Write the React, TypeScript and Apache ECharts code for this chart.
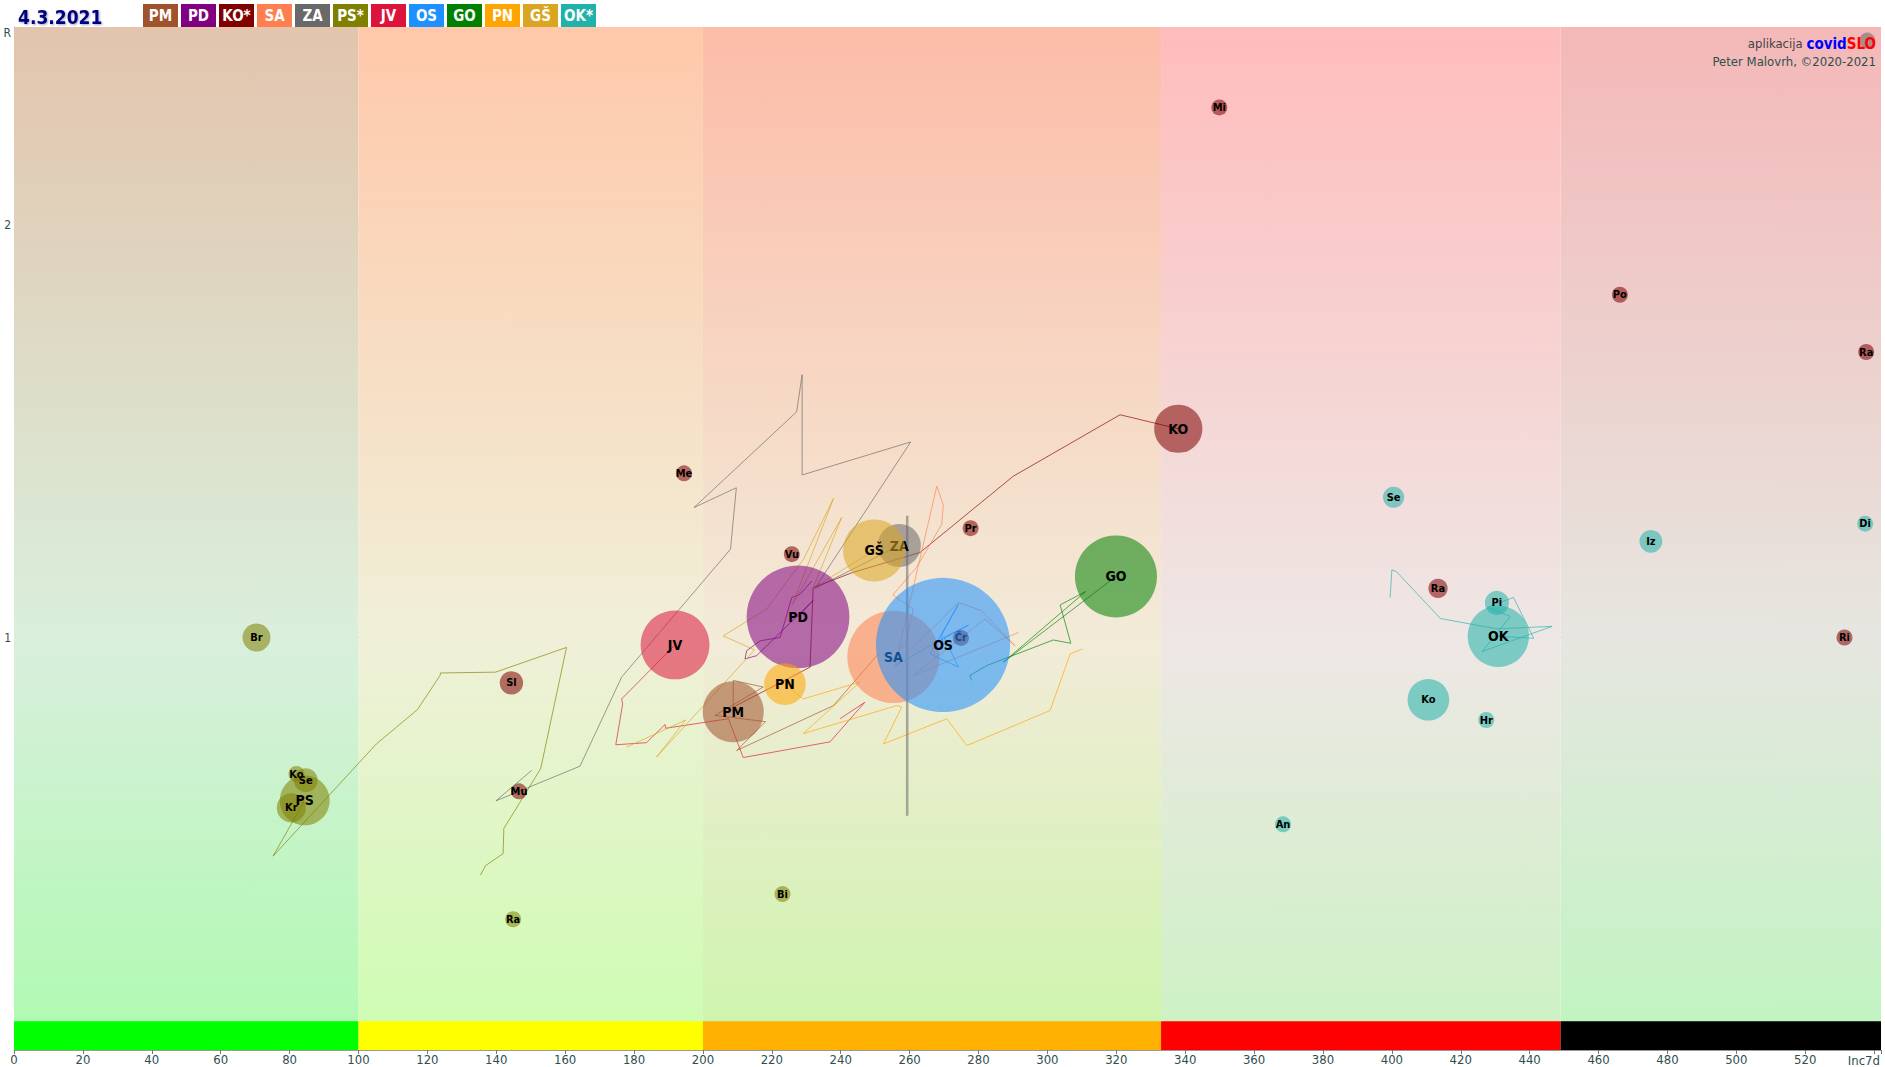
import React, { useEffect, useRef } from 'react';
import * as echarts from 'echarts';

const FONT = "'DejaVu Sans Condensed', 'Liberation Sans Narrow', 'DejaVu Sans', sans-serif";

const dateLabel = '4.3.2021';
const xAxisName = 'Inc7d';
const yAxisName = 'R';
const xAxisMax = 542;
const yAxisMax = 2.48;
const xTickStep = 20;

// regions (legend order)
const regionCodes = ['PM', 'PD', 'KO*', 'SA', 'ZA', 'PS*', 'JV', 'OS', 'GO', 'PN', 'GŠ', 'OK*'];
const regionNames = ['PM', 'PD', 'KO', 'SA', 'ZA', 'PS', 'JV', 'OS', 'GO', 'PN', 'GŠ', 'OK'];
const regionColors = ['#a0522d', '#800080', '#800000', '#ff7f50', '#696969', '#808000', '#dc143c', '#1e90ff', '#008000', '#ffa500', '#daa520', '#20b2aa'];
const regionInc7d = [208.8, 227.6, 338.0, 255.3, 257.0, 84.4, 191.9, 269.7, 319.9, 223.8, 249.7, 430.9];
const regionR = [0.820, 1.050, 1.506, 0.953, 1.223, 0.605, 0.982, 0.982, 1.148, 0.887, 1.211, 1.003];
const regionPopK = [114, 323, 71, 260, 57, 76, 145, 550, 206, 53, 118, 115];

// municipalities
const muniNames = ['Mi', 'Po', 'Ra', 'Ri', 'Me', 'Vu', 'Pr', 'Čr', 'Sl', 'Mu', 'Ra', 'Se', 'Iz', 'Di', 'Pi', 'Ko', 'Hr', 'An', 'Br', 'Ko', 'Se', 'Kr', 'Bi', 'Ra', ''];
const muniRegion = [2, 2, 2, 2, 2, 2, 2, 2, 2, 2, 2, 11, 11, 11, 11, 11, 11, 11, 5, 5, 5, 5, 5, 5, 4];
const muniInc7d = [349.9, 466.2, 537.7, 531.4, 194.5, 225.8, 277.7, 274.9, 144.4, 146.6, 413.4, 400.5, 475.2, 537.4, 430.5, 410.6, 427.4, 368.4, 70.4, 82.0, 84.7, 80.5, 223.1, 144.9, 538.0];
const muniR = [2.285, 1.831, 1.692, 1.000, 1.398, 1.202, 1.265, 0.999, 0.890, 0.627, 1.119, 1.340, 1.233, 1.276, 1.084, 0.849, 0.800, 0.547, 1.000, 0.669, 0.654, 0.587, 0.378, 0.317, 2.447];
const muniPopK = [4.6, 2.3, 6.2, 1.1, 3.6, 2.7, 6.8, 2.1, 16.8, 3.4, 11.3, 13.8, 16.0, 4.2, 17.8, 53, 4.6, 3.2, 24, 2.4, 17.5, 26, 1.4, 4.2, 3];

// trails (history of each region)
const trailPM = [[250.9, 0.960], [237.9, 0.835], [209.8, 0.726], [218.2, 0.796], [203.5, 0.811], [217.5, 0.880], [208.8, 0.896], [208.8, 0.820]];
const trailPD = [[231.6, 1.137], [228.2, 1.105], [225.8, 1.097], [222.4, 1.0], [216.6, 0.992], [212.7, 0.968], [212.2, 0.948], [215.6, 0.956], [232.0, 1.090], [227.6, 1.050]];
const trailKO = [[208.5, 0.830], [231.1, 0.928], [232.0, 1.121], [243.6, 1.158], [263.0, 1.206], [290.1, 1.391], [321.1, 1.540], [338.0, 1.506]];
const trailSA = [[291.6, 1.012], [261.1, 0.908], [281.9, 1.045], [290.6, 0.980], [280.9, 1.065], [274.2, 1.085], [255.8, 0.932], [267.9, 1.367], [269.8, 1.321], [269.3, 1.274], [262.0, 1.170], [255.1, 1.103], [261.1, 1.069], [259.0, 0.990], [255.3, 0.953]];
const trailZA = [[150.3, 0.678], [139.9, 0.604], [164.3, 0.688], [176.4, 0.904], [208.0, 1.214], [209.7, 1.363], [197.4, 1.315], [227.2, 1.547], [228.8, 1.637], [228.8, 1.394], [260.3, 1.474], [232.5, 1.119], [257.0, 1.223]];
const trailPS = [[135.4, 0.424], [136.9, 0.447], [142.0, 0.476], [142.2, 0.537], [152.9, 0.682], [160.4, 0.976], [139.8, 0.916], [123.8, 0.914], [123.7, 0.908], [117.1, 0.825], [105.2, 0.742], [75.2, 0.470], [84.4, 0.605]];
const trailJV = [[239.8, 0.803], [247.0, 0.843], [236.9, 0.747], [211.7, 0.709], [207.4, 0.803], [189.2, 0.780], [189.0, 0.789], [183.6, 0.745], [174.7, 0.740], [176.7, 0.839], [176.4, 0.851], [191.9, 0.982]];
const trailOS = [[255.8, 0.932], [268.0, 0.990], [277.1, 1.030], [270.0, 1.000], [274.2, 0.928], [266.0, 0.960], [274.2, 1.081], [269.3, 1.006], [269.7, 0.982]];
const trailGO = [[278.0, 0.896], [277.5, 0.908], [282.4, 0.932], [301.7, 0.994], [306.8, 0.986], [303.7, 1.079], [311.2, 1.112], [287.2, 0.940], [319.9, 1.148]];
const trailPN = [[310.1, 0.972], [306.6, 0.960], [300.8, 0.823], [276.6, 0.738], [270.8, 0.803], [252.4, 0.742], [257.7, 0.831], [256.3, 0.835], [229.1, 0.767], [245.6, 0.892], [229.1, 0.851], [223.8, 0.887]];
const trailGS = [[177.8, 0.734], [195.0, 0.800], [186.5, 0.710], [215.0, 0.970], [205.9, 1.004], [218.5, 1.069], [229.3, 1.191], [237.9, 1.337], [226.0, 1.080], [240.3, 1.291], [232.0, 1.120], [249.7, 1.211]];
const trailOK = [[399.5, 1.097], [400.0, 1.164], [401.3, 1.160], [414.1, 1.046], [430.5, 1.021], [446.5, 1.027], [426.2, 0.966], [434.4, 1.051], [427.7, 1.073], [435.3, 1.097], [441.2, 0.998], [430.9, 1.003]];
const trails = [trailPM, trailPD, trailKO, trailSA, trailZA, trailPS, trailJV, trailOS, trailGO, trailPN, trailGS, trailOK];
const zaRange = [[259.3, 1.295], [259.3, 0.568]];

// incidence bands
const bandEdges = [0, 100, 200, 333, 449, 542];
const barTop = 0.07;
const bandTop = ['#e3c4ad', '#ffc8aa', '#fcbca8', '#ffbcbc', '#f4b8b8'];
const bandMid = ['#d9efdc', '#f0f0d8', '#f2ebd8', '#eee7e5', '#e6e6e0'];
const bandBottom = ['#aefab0', '#ccfdb0', '#ccf5ab', '#cbf2c2', '#bff5c0'];
const barColors = ['#00ff00', '#ffff00', '#ffb000', '#ff0000', '#000000'];

function bubbleSize(popK: number) {
  return Math.max(16, 5.72 * Math.sqrt(popK));
}

function withAlpha(hex: string, a: number) {
  const n = parseInt(hex.slice(1), 16);
  return `rgba(${(n >> 16) & 255},${(n >> 8) & 255},${n & 255},${a})`;
}

export default function App() {
  const ref = useRef<HTMLDivElement>(null);
  useEffect(() => {
    const chart = echarts.init(ref.current as HTMLDivElement, null, { renderer: 'svg' });

    const bgAreas: any[] = [];
    for (let i = 0; i < bandTop.length; i++) {
      bgAreas.push([
        {
          xAxis: bandEdges[i], yAxis: 0,
          itemStyle: {
            opacity: 1,
            color: {
              type: 'linear', x: 0, y: 0, x2: 0, y2: 1,
              colorStops: [
                { offset: 0, color: bandTop[i] },
                { offset: 0.6, color: bandMid[i] },
                { offset: 1, color: bandBottom[i] },
              ],
            },
          },
        },
        { xAxis: bandEdges[i + 1], yAxis: yAxisMax },
      ]);
    }
    for (let i = 0; i < barColors.length; i++) {
      bgAreas.push([
        { xAxis: bandEdges[i], yAxis: 0, itemStyle: { opacity: 1, color: barColors[i] } },
        { xAxis: bandEdges[i + 1], yAxis: barTop },
      ]);
    }

    const series: any[] = [
      {
        type: 'line', data: [], z: 0, silent: true,
        markArea: { silent: true, label: { show: false }, data: bgAreas },
      },
    ];

    trails.forEach((t, i) => {
      series.push({
        type: 'line', data: t, z: 1, silent: true, showSymbol: false, symbol: 'none',
        lineStyle: { color: regionColors[i], width: 1, opacity: 0.65 },
      });
    });
    series.push({
      type: 'line', data: zaRange, z: 1, silent: true, showSymbol: false, symbol: 'none',
      lineStyle: { color: regionColors[4], width: 2.5, opacity: 0.55 },
    });

    regionNames.forEach((name, i) => {
      const items: any[] = [];
      muniNames.forEach((m, j) => {
        if (muniRegion[j] !== i) return;
        items.push({
          name: m, value: [muniInc7d[j], muniR[j]], symbolSize: bubbleSize(muniPopK[j]),
          label: { fontSize: 11 },
        });
      });
      items.push({
        name, value: [regionInc7d[i], regionR[i]], symbolSize: bubbleSize(regionPopK[i]),
        label: { fontSize: 14 },
      });
      series.push({
        type: 'scatter', z: 3 + i, silent: true, data: items,
        itemStyle: { color: withAlpha(regionColors[i], 0.55), opacity: 1 },
        label: { show: true, position: 'inside', formatter: '{b}', color: '#000', fontWeight: 'bold', fontFamily: FONT },
      });
    });

    const rich: any = { gap: { width: 3, fontSize: 10 } };
    regionCodes.forEach((c, i) => {
      rich['r' + i] = {
        backgroundColor: regionColors[i], color: '#fff', width: 35, height: 23, lineHeight: 23,
        align: 'center', fontSize: 15, fontWeight: 'bold', fontFamily: FONT,
      };
    });
    const legendText = regionCodes.map((c, i) => `{r${i}|${c}}`).join('{gap| }');

    const option: any = {
      animation: false,
      backgroundColor: '#ffffff',
      textStyle: { fontFamily: FONT },
      title: [
        {
          text: dateLabel, left: 13, top: 2,
          textStyle: {
            color: '#000080', fontSize: 19, fontWeight: 'bold', fontFamily: FONT,
            textShadowColor: 'rgba(0,0,80,0.35)', textShadowBlur: 2, textShadowOffsetX: 1, textShadowOffsetY: 1,
          },
        },
        { text: legendText, left: 143, top: 4, padding: 0, textStyle: { rich } },
      ],
      grid: { left: 14, right: 4, top: 27, bottom: 15, containLabel: false },
      xAxis: {
        type: 'value', min: 0, max: xAxisMax, interval: xTickStep,
        name: xAxisName, nameLocation: 'end', nameGap: -1,
        nameTextStyle: { color: '#2f4f4f', fontSize: 13, fontFamily: FONT, align: 'right', verticalAlign: 'top', padding: [4, 0, 0, 0] },
        axisLine: { show: true, lineStyle: { color: '#999' } },
        axisTick: { show: true, length: 4, lineStyle: { color: '#777' } },
        splitLine: { show: false },
        axisLabel: {
          color: '#2f4f4f', fontSize: 13, margin: 3, fontFamily: FONT,
          formatter: (v: number) => (v > xAxisMax - xTickStep / 2 ? '' : String(v)),
        },
      },
      yAxis: {
        type: 'value', min: 0, max: yAxisMax, interval: 1,
        axisLine: { show: true, lineStyle: { color: '#999' } },
        axisTick: { show: false },
        splitLine: { show: true, lineStyle: { type: 'dotted', color: ['transparent', '#6f9f6f', '#b8b8b8', 'transparent'] } },
        axisLabel: {
          color: '#2f4f4f', fontSize: 12, margin: 3, fontFamily: FONT, verticalAlignMaxLabel: 'top',
          formatter: (v: number) => (v === 0 ? '' : Math.abs(v - yAxisMax) < 1e-6 ? yAxisName : String(v)),
        },
      },
      graphic: [
        {
          type: 'text', right: 9, top: 36, z: 100, silent: true,
          style: {
            text: '{a|aplikacija }{b|covid}{c|SLO}',
            rich: {
              a: { fill: '#444', fontSize: 13, fontFamily: FONT },
              b: { fill: '#0000ff', fontSize: 15, fontWeight: 'bold', fontFamily: FONT },
              c: { fill: '#ff0000', fontSize: 15, fontWeight: 'bold', fontFamily: FONT },
            },
          },
        },
        {
          type: 'text', right: 9, top: 55, z: 100, silent: true,
          style: { text: 'Peter Malovrh, ©2020-2021', fill: '#2f4f4f', fontSize: 13, fontFamily: FONT },
        },
      ],
      series,
    };
    chart.setOption(option);
    return () => chart.dispose();
  }, []);
  return <div ref={ref} style={{ position: 'fixed', left: 0, top: 0, width: 1885, height: 1067 }} />;
}
